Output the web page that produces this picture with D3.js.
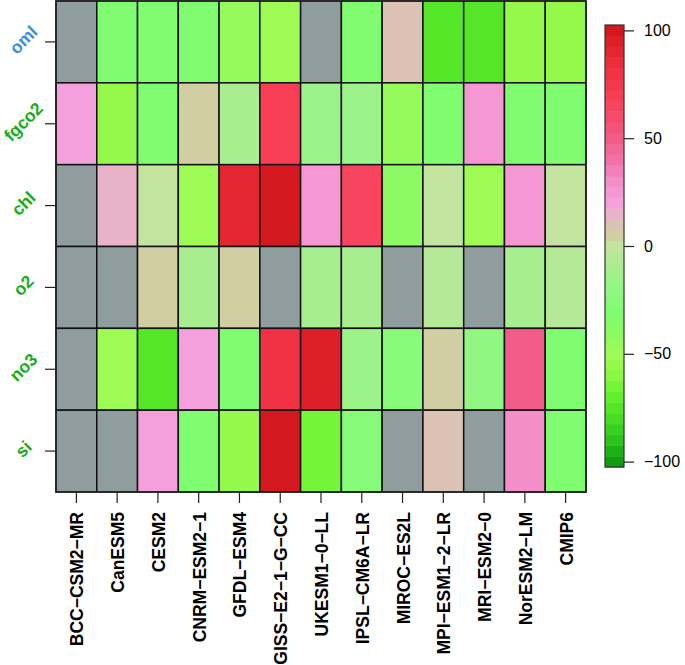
<!DOCTYPE html>
<html><head><meta charset="utf-8">
<script src="https://cdn.jsdelivr.net/npm/d3@7"></script>
<style>body{margin:0;background:#fff}svg{display:block}</style>
</head><body>
<script>
const models = ["BCC-CSM2-MR","CanESM5","CESM2","CNRM-ESM2-1","GFDL-ESM4","GISS-E2-1-G-CC","UKESM1-0-LL","IPSL-CM6A-LR","MIROC-ES2L","MPI-ESM1-2-LR","MRI-ESM2-0","NorESM2-LM","CMIP6"];
const variables = ["oml","fgco2","chl","o2","no3","si"];
const varColors = ["#3a8fe0","#1aad1a","#1aad1a","#1aad1a","#1aad1a","#1aad1a"];
const oml   = [null,-30,-30,-30,-45,-50,null,-30,10,-75,-75,-55,-55];
const fgco2 = [20,-55,-30,5,-10,70,-15,-15,-45,-30,25,-30,-30];
const chl   = [null,15,0,-50,90,100,25,65,-40,0,-50,25,0];
const o2    = [null,null,5,-10,5,null,-10,-10,null,-5,null,-10,-5];
const no3   = [null,-50,-75,20,-30,80,95,-15,-25,5,-20,50,-30];
const si    = [null,null,20,-30,-55,100,-65,-25,null,10,null,30,-30];
const rows = [oml,fgco2,chl,o2,no3,si];
const legendTicks = [100,50,0,-50,-100];
const stopVals = [-100,-90,-80,-70,-60,-50,-40,-30,-20,-10,0,5,10,15,20,30,40,50,60,70,80,90,100];
const stopCols = ["#109e10","#2cc41c","#48dc22","#62f02c","#8af842","#9efa54","#8cfa62","#80fc70","#90f882","#a8ee90","#c2e49e","#d2cea4","#dcc2b4","#e8b2c8","#f4a0dc","#f48ec8","#f072a8","#f25c88","#f64a6a","#f83e54","#f03244","#e42632","#d41820"];
const naColor = "#8f9d9e";

const W = 685, H = 665;
const svg = d3.select("body").append("svg").attr("width", W).attr("height", H);
const ramp = d3.scaleLinear().domain(stopVals).range(stopCols).interpolate(d3.interpolateRgb).clamp(true);
const colorOf = v => v == null ? naColor : ramp(Math.round(v / 5) * 5);

const x = d3.scaleBand().domain(models).range([56, 586]).padding(0);
const y = d3.scaleBand().domain(variables).range([1, 492]).padding(0);

const cells = [];
rows.forEach((r, i) => r.forEach((v, j) => cells.push({m: models[j], v: variables[i], val: v})));
svg.append("g").selectAll("rect").data(cells).join("rect")
  .attr("x", d => x(d.m)).attr("y", d => y(d.v))
  .attr("width", x.bandwidth()).attr("height", y.bandwidth())
  .attr("fill", d => colorOf(d.val))
  .attr("stroke", "#111").attr("stroke-width", 1.5);
svg.append("rect").attr("x", 56).attr("y", 1).attr("width", 530).attr("height", 491)
  .attr("fill", "none").attr("stroke", "#222").attr("stroke-width", 1.5);

// x axis
const xg = svg.append("g").attr("transform", "translate(0,492)");
xg.call(d3.axisBottom(x).tickSize(11).tickSizeOuter(0).tickFormat(""));
xg.select(".domain").remove();
xg.selectAll(".tick line").attr("stroke", "#222").attr("stroke-width", 1.2);
svg.append("g").selectAll("text").data(models).join("text")
  .attr("transform", d => `translate(${x(d) + x.bandwidth()/2 + 1},512) rotate(-90)`)
  .attr("text-anchor", "end").attr("dominant-baseline", "central")
  .attr("font-family", "Liberation Sans, Arial, sans-serif").attr("font-weight", "bold")
  .attr("font-size", 17.5).attr("fill", "#000")
  .text(d => d.replace(/-/g, "\u2212"));

// y axis
const yg = svg.append("g").attr("transform", "translate(56,0)");
yg.call(d3.axisLeft(y).tickSize(11).tickSizeOuter(0).tickFormat(""));
yg.select(".domain").remove();
yg.selectAll(".tick line").attr("stroke", "#222").attr("stroke-width", 1.2);
svg.append("g").selectAll("text").data(variables).join("text")
  .attr("transform", d => `translate(23.5,${y(d) + y.bandwidth()/2 - 2}) rotate(-45)`)
  .attr("text-anchor", "middle").attr("dominant-baseline", "central")
  .attr("font-family", "Liberation Sans, Arial, sans-serif").attr("font-weight", "bold")
  .attr("font-size", 17.5).attr("fill", (d, i) => varColors[i])
  .text(d => d);

// colorbar
const ly = d3.scaleLinear().domain([-102.5, 102.5]).range([467, 25]);
const bands = d3.range(-100, 101, 5);
svg.append("g").selectAll("rect").data(bands).join("rect")
  .attr("x", 605).attr("y", d => ly(d + 2.5)).attr("width", 19)
  .attr("height", d => ly(d - 2.5) - ly(d + 2.5) + 0.5)
  .attr("fill", d => colorOf(d));
svg.append("rect").attr("x", 605).attr("y", 25).attr("width", 19).attr("height", 442)
  .attr("fill", "none").attr("stroke", "#333").attr("stroke-width", 1.2);
const lg = svg.append("g").attr("transform", "translate(624,0)");
lg.call(d3.axisRight(ly).tickValues(legendTicks).tickSize(10).tickPadding(10)
  .tickFormat(d => String(d).replace("-", "\u2212")));
lg.select(".domain").remove();
lg.selectAll(".tick line").attr("stroke", "#222").attr("stroke-width", 1.2);
lg.selectAll(".tick text").attr("font-family", "Liberation Sans, Arial, sans-serif")
  .attr("font-size", 16).attr("fill", "#000");
</script>
</body></html>
